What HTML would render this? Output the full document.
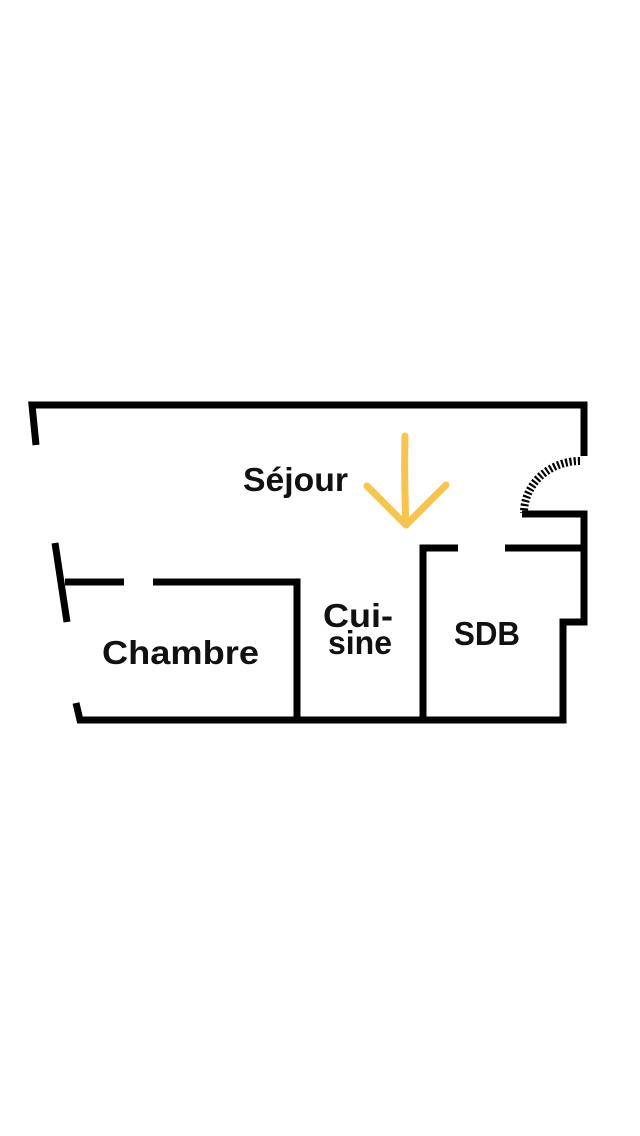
<!DOCTYPE html>
<html><head><meta charset="utf-8"><style>html,body{margin:0;padding:0;background:#fff}svg{display:block}</style></head>
<body>
<svg width="640" height="1136" viewBox="0 0 640 1136" xmlns="http://www.w3.org/2000/svg">
<g fill="none" stroke="#000" stroke-width="7" stroke-linecap="butt" stroke-linejoin="miter">
<polyline points="36,445 32,405 584,405 584,456"/>
<polyline points="522,514 584,514 584,622 563,622 563,720 80,720 76,703"/>
<line x1="55" y1="543" x2="67" y2="622"/>
<line x1="65" y1="582" x2="124" y2="582"/>
<polyline points="153,582 297,582 297,720"/>
<polyline points="423,720 423,548 458,548"/>
<line x1="505" y1="548" x2="584" y2="548"/>
</g>
<path d="M580,461 A56,52 0 0 0 524,513" fill="none" stroke="#000" stroke-width="8" stroke-dasharray="2.2,2"/>
<g fill="none" stroke="#f7c54e" stroke-width="7" stroke-linecap="round" stroke-linejoin="round">
<path d="M405,436 Q404,480 406,525"/>
<path d="M367,486 L406,525 L446,485"/>
</g>
<g font-family="Liberation Sans, sans-serif" font-weight="bold" font-size="33" fill="#111">
<text x="243" y="491" textLength="105" lengthAdjust="spacingAndGlyphs">Séjour</text>
<text x="102" y="664" textLength="157" lengthAdjust="spacingAndGlyphs">Chambre</text>
<text x="323" y="627" textLength="70" lengthAdjust="spacingAndGlyphs">Cui-</text>
<text x="328" y="654" textLength="64" lengthAdjust="spacingAndGlyphs">sine</text>
<text x="454" y="645" textLength="66" lengthAdjust="spacingAndGlyphs">SDB</text>
</g>
</svg>
</body></html>
